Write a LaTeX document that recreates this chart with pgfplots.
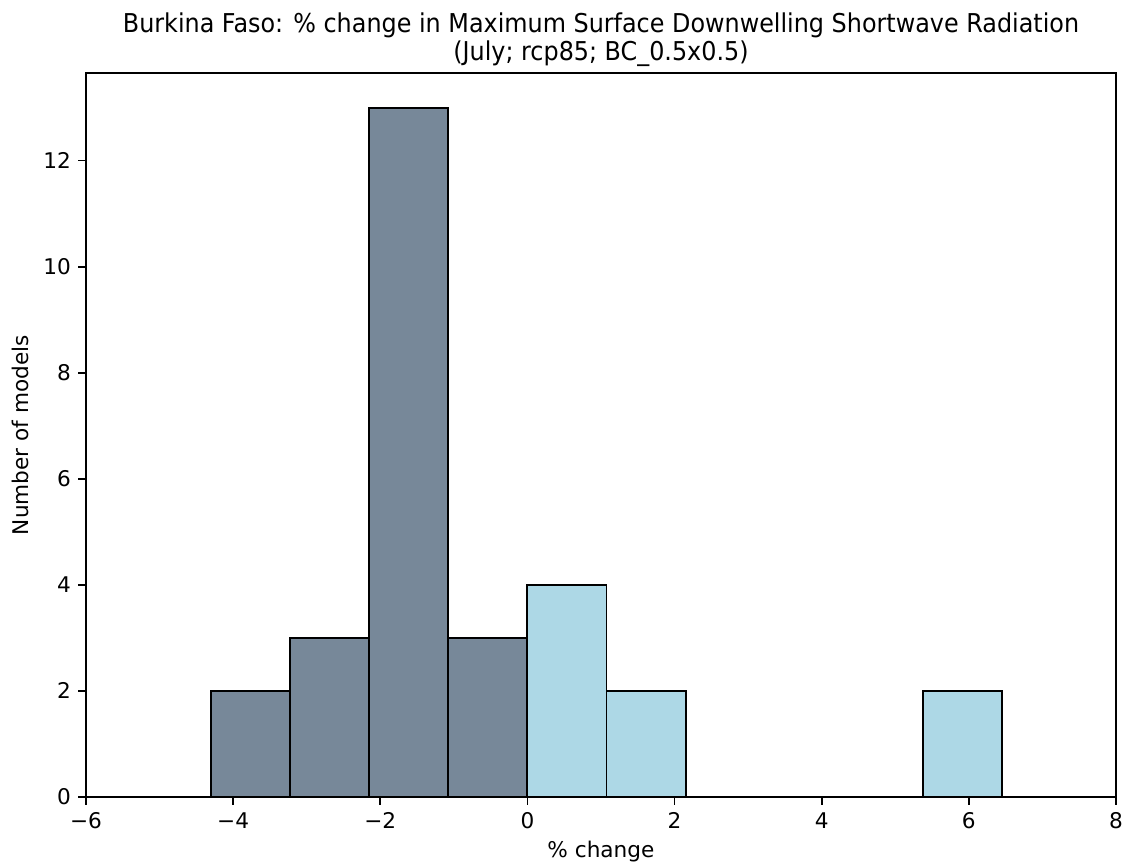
\documentclass[border=0pt]{standalone}
\usepackage{fontspec}
\setmainfont{DejaVu Sans}
\usepackage{graphicx}
\usepackage{pgfplots}
\pgfplotsset{compat=1.18}
\definecolor{lsg}{HTML}{778899}
\definecolor{lbl}{HTML}{ADD8E6}
\begin{document}
\begin{tikzpicture}
\path[use as bounding box] (-39.8pt,-31.45pt) rectangle (482pt,368.7pt);
\begin{axis}[
  at={(0pt,0pt)}, anchor=south west,
  scale only axis, width=476.4pt, height=334.9pt,
  xmin=-6, xmax=8, ymin=0, ymax=13.65,
  axis line style={line width=0.8pt},
  tick style={line width=0.8pt, black},
  major tick length=3.5pt,
  tick align=outside,
  xtick pos=bottom, ytick pos=left,
  xtick={-6,-4,-2,0,2,4,6,8},
  xticklabels={−6,−4,−2,0,2,4,6,8},
  ytick={0,2,4,6,8,10,12},
  yticklabels={0,2,4,6,8,10,12},
  tick label style={font=\fontsize{10}{12}\selectfont},
  xlabel={\% change},
  ylabel={Number of models},
  label style={font=\fontsize{10}{12}\selectfont},
  xlabel style={yshift=1pt},
  title={\scalebox{0.92}[1]{Burkina Faso: \% change in Maximum Surface Downwelling Shortwave Radiation}\\\scalebox{0.92}[1]{(July; rcp85; BC\_0.5x0.5)}},
  title style={align=center, font=\fontsize{12}{13}\selectfont, at={(0.5,1)}, anchor=south, yshift=-6.5pt},
  clip=false,
]
\addplot[ybar interval, fill=lsg, draw=black, line width=0.9pt] coordinates {
  (-4.3,2) (-3.225,3) (-2.15,13) (-1.075,3) (0,3)
};
\addplot[ybar interval, fill=lbl, draw=black, line width=0.9pt] coordinates {
  (0,4) (1.075,2) (2.15,0) (3.225,0) (4.3,0) (5.375,2) (6.45,0)
};
\end{axis}
\end{tikzpicture}
\end{document}
